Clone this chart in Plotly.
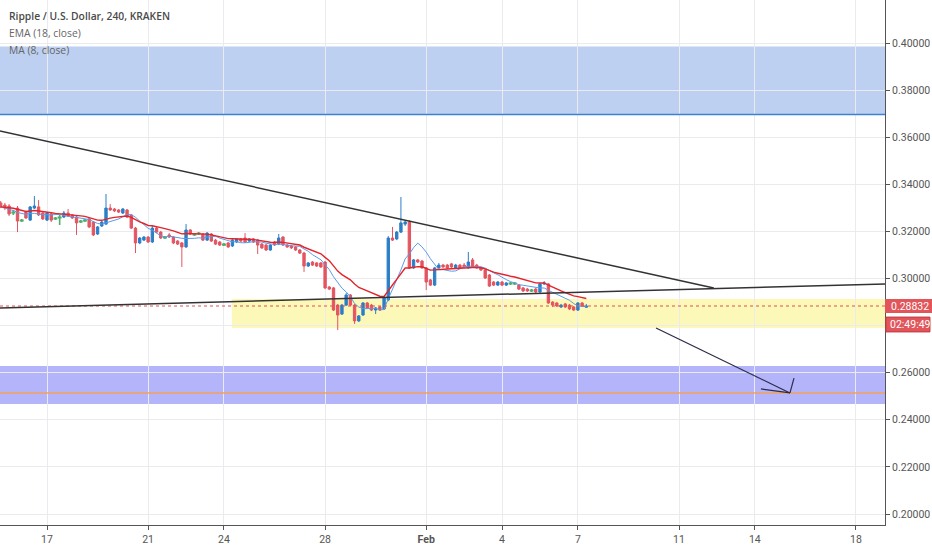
#!/usr/bin/env python3
"""Ripple / USD 4h candles (Kraken) with EMA(18), MA(8) and drawn zones."""
import pandas as pd
import plotly.graph_objects as go

# 4h candles from 2019-01-15 04:00
opens = [
    .3321, .3312, .3308, .3279, .3299, .3245, .3282, .3248, .3299, .3304,
    .3278, .3248, .3274, .3254, .3258, .3261, .3278, .3270, .3261, .3241,
    .3245, .3253, .3240, .3189, .3223, .3231, .3299, .3295, .3291, .3278,
    .3291, .3270, .3214, .3151, .3163, .3176, .3155, .3214, .3197, .3173,
    .3185, .3176, .3159, .3151, .3134, .3206, .3186, .3190, .3189, .3163,
    .3189, .3163, .3155, .3143, .3151, .3138, .3155, .3168, .3172, .3159,
    .3168, .3163, .3146, .3142, .3121, .3155, .3146, .3176, .3142, .3138,
    .3134, .3121, .3108, .3053, .3070, .3066, .3066, .3070, .2964, .2960,
    .2887, .2849, .2887, .2930, .2887, .2820, .2845, .2896, .2887, .2866,
    .2879, .2871, .2909, .3172, .3168, .3197, .3231, .3240, .3045, .3079,
    .3074, .3045, .2994, .2972, .3045, .3057, .3057, .3062, .3045, .3057,
    .3057, .3045, .3079, .3057, .3045, .3036, .3015, .2985, .2972, .2985,
    .2972, .2978, .2980, .2972, .2960, .2955, .2948, .2955, .2943, .2977,
    .2977, .2900, .2896, .2879, .2892, .2887, .2879, .2866, .2896, .2878,
]
highs = [
    .3329, .3321, .3316, .3291, .3308, .3253, .3287, .3308, .3350, .3333,
    .3282, .3282, .3278, .3261, .3270, .3287, .3295, .3274, .3265, .3248,
    .3253, .3257, .3244, .3223, .3244, .3359, .3316, .3299, .3295, .3299,
    .3295, .3274, .3219, .3176, .3180, .3180, .3223, .3219, .3202, .3180,
    .3193, .3180, .3163, .3155, .3231, .3210, .3193, .3197, .3193, .3197,
    .3193, .3168, .3159, .3151, .3155, .3168, .3172, .3172, .3193, .3172,
    .3172, .3168, .3151, .3146, .3146, .3159, .3189, .3180, .3146, .3142,
    .3138, .3125, .3113, .3070, .3074, .3070, .3070, .3074, .2968, .2964,
    .2892, .2892, .2938, .2934, .2892, .2845, .2900, .2900, .2892, .2879,
    .2883, .2921, .3180, .3219, .3202, .3346, .3248, .3248, .3083, .3083,
    .3079, .3049, .2998, .3049, .3066, .3062, .3062, .3066, .3062, .3062,
    .3066, .3113, .3087, .3062, .3049, .3041, .3019, .2989, .2989, .2989,
    .2985, .2985, .2985, .2977, .2964, .2960, .2955, .2960, .2981, .2989,
    .2981, .2904, .2900, .2892, .2896, .2892, .2883, .2900, .2900, .2892,
]
lows = [
    .3299, .3291, .3265, .3270, .3197, .3240, .3253, .3244, .3295, .3265,
    .3248, .3244, .3240, .3248, .3227, .3257, .3261, .3253, .3185, .3236,
    .3240, .3214, .3180, .3185, .3219, .3227, .3287, .3282, .3278, .3274,
    .3257, .3210, .3108, .3146, .3159, .3151, .3151, .3193, .3168, .3168,
    .3172, .3146, .3142, .3049, .3130, .3185, .3180, .3185, .3159, .3159,
    .3155, .3142, .3138, .3138, .3130, .3134, .3151, .3155, .3151, .3155,
    .3151, .3104, .3125, .3117, .3117, .3138, .3142, .3138, .3130, .3125,
    .3117, .3104, .3028, .3049, .3053, .3049, .3045, .2955, .2951, .2862,
    .2781, .2845, .2883, .2883, .2807, .2815, .2841, .2871, .2862, .2849,
    .2862, .2866, .2904, .3159, .3163, .3193, .3223, .3041, .3041, .3066,
    .3041, .2951, .2968, .2968, .3041, .3045, .3041, .3045, .3041, .3041,
    .3045, .3041, .3045, .3041, .3032, .2998, .2964, .2968, .2968, .2968,
    .2968, .2972, .2972, .2951, .2943, .2943, .2943, .2938, .2938, .2972,
    .2892, .2879, .2879, .2875, .2875, .2866, .2862, .2862, .2879, .2875,
]
closes = [
    .3304, .3299, .3274, .3281, .3244, .3247, .3257, .3304, .3308, .3270,
    .3253, .3278, .3248, .3256, .3260, .3278, .3265, .3257, .3236, .3243,
    .3247, .3219, .3185, .3219, .3240, .3299, .3291, .3287, .3282, .3295,
    .3261, .3214, .3151, .3172, .3176, .3155, .3214, .3197, .3172, .3175,
    .3176, .3151, .3146, .3134, .3206, .3189, .3188, .3192, .3163, .3193,
    .3159, .3146, .3142, .3145, .3134, .3163, .3168, .3159, .3155, .3168,
    .3155, .3142, .3130, .3121, .3142, .3142, .3172, .3142, .3134, .3130,
    .3121, .3108, .3053, .3066, .3057, .3053, .3049, .2960, .2955, .2866,
    .2845, .2887, .2930, .2887, .2820, .2841, .2896, .2875, .2866, .2875,
    .2866, .2917, .3172, .3163, .3197, .3236, .3240, .3045, .3079, .3070,
    .3045, .2985, .2972, .3045, .3057, .3049, .3045, .3049, .3057, .3045,
    .3049, .3070, .3049, .3045, .3036, .3002, .2968, .2972, .2985, .2972,
    .2981, .2980, .2978, .2955, .2947, .2947, .2950, .2943, .2977, .2981,
    .2896, .2887, .2883, .2887, .2879, .2871, .2866, .2896, .2883, .28832,
]

# drawn zones / lines (prices)
supply_zone = (0.3696, 0.3985)
supply_line = 0.3696
yellow_zone = ("2019-01-24 07:30", 0.2790, 0.2913)
demand_zone = (0.2467, 0.2628)
target_line = 0.2514
down_trend = [("2019-01-15 03:20", 0.3626), ("2019-02-12 09:00", 0.2960)]
up_trend = [("2019-01-15 03:20", 0.2875), ("2019-02-19 03:35", 0.2977)]
arrow_pts = [("2019-02-10 02:10", 0.2790), ("2019-02-15 09:20", 0.2514)]
arrow_head = [("2019-02-14 05:50", 0.2531), ("2019-02-15 13:10", 0.2577)]
last_price = 0.28832
countdown = "02:49:49"

x_ticks = ["2019-01-17", "2019-01-21", "2019-01-24", "2019-01-28", "2019-02-01",
           "2019-02-04", "2019-02-07", "2019-02-11", "2019-02-14", "2019-02-18"]
x_labels = ["17", "21", "24", "28", "<b>Feb</b>", "4", "7", "11", "14", "18"]
y_ticks = [0.20, 0.22, 0.24, 0.26, 0.28, 0.30, 0.32, 0.34, 0.36, 0.38, 0.40]

df = pd.DataFrame({"open": opens, "high": highs, "low": lows, "close": closes})
df["time"] = pd.date_range("2019-01-15 04:00", periods=len(df), freq="4h")
df["ema"] = df["close"].ewm(span=18, adjust=False).mean()
df["ma"] = df["close"].rolling(8, min_periods=1).mean()
doji = (df["close"] - df["open"]).abs() < 0.0003
body = df[~doji]
flat = df[doji]

RED = "#e35561"
BLUE = "#2b7fc6"
GREEN = "#4caf6e"
FONT = "Liberation Sans Narrow, Roboto, sans-serif"
Y0, Y1 = 0.19533, 0.41826
X0, X1 = "2019-01-15 03:22", "2019-02-19 03:34"

fig = go.Figure()
fig.add_trace(go.Candlestick(
    x=body["time"], open=body["open"], high=body["high"], low=body["low"], close=body["close"],
    increasing=dict(line=dict(color=BLUE, width=1), fillcolor=BLUE),
    decreasing=dict(line=dict(color=RED, width=1), fillcolor=RED),
    whiskerwidth=0, hoverinfo="skip"))
fig.add_trace(go.Candlestick(
    x=flat["time"], open=flat["open"], high=flat["high"], low=flat["low"], close=flat["close"],
    increasing=dict(line=dict(color=GREEN, width=1.6), fillcolor=GREEN),
    decreasing=dict(line=dict(color=GREEN, width=1.6), fillcolor=GREEN),
    whiskerwidth=0, hoverinfo="skip"))
fig.add_trace(go.Scatter(x=df["time"], y=df["ma"], mode="lines",
                         line=dict(color="#5b9bea", width=1), hoverinfo="skip"))
fig.add_trace(go.Scatter(x=df["time"], y=df["ema"], mode="lines",
                         line=dict(color="#e3242b", width=1.4), hoverinfo="skip"))

shapes = [
    dict(type="rect", xref="paper", x0=0, x1=1, yref="y", y0=supply_zone[0], y1=supply_zone[1],
         fillcolor="#bdd0f1", line_width=0, layer="below"),
    dict(type="rect", xref="x", x0=yellow_zone[0], x1="2019-02-21", yref="y",
         y0=yellow_zone[1], y1=yellow_zone[2], fillcolor="#fcf8b8", line_width=0, layer="below"),
    dict(type="rect", xref="paper", x0=0, x1=1, yref="y", y0=demand_zone[0], y1=demand_zone[1],
         fillcolor="#b4b4fa", line_width=0, layer="below"),
    dict(type="line", xref="paper", x0=0, x1=1, yref="y", y0=supply_line, y1=supply_line,
         line=dict(color="#3c82d0", width=1.5)),
    dict(type="line", xref="paper", x0=0, x1=1, yref="y", y0=target_line, y1=target_line,
         line=dict(color="#f5a05a", width=1.5)),
    dict(type="line", xref="paper", x0=0, x1=1, yref="y", y0=last_price, y1=last_price,
         line=dict(color="#e05050", width=1, dash="dot")),
    dict(type="line", x0=down_trend[0][0], y0=down_trend[0][1], x1=down_trend[1][0], y1=down_trend[1][1],
         line=dict(color="#333333", width=1.5)),
    dict(type="line", x0=up_trend[0][0], y0=up_trend[0][1], x1=up_trend[1][0], y1=up_trend[1][1],
         line=dict(color="#333333", width=1.5)),
    dict(type="line", x0=arrow_pts[0][0], y0=arrow_pts[0][1], x1=arrow_pts[1][0], y1=arrow_pts[1][1],
         line=dict(color="#2c2c4a", width=1.2)),
]
for hx, hy in arrow_head:
    shapes.append(dict(type="line", x0=hx, y0=hy, x1=arrow_pts[1][0], y1=arrow_pts[1][1],
                       line=dict(color="#2c2c4a", width=1.2)))
# price / countdown tags on the axis
shapes.append(dict(type="rect", xref="paper", x0=1.0, x1=1.06, yref="y",
                   y0=last_price - 0.0030, y1=last_price + 0.0030,
                   fillcolor="#e1555b", line_width=0))
shapes.append(dict(type="rect", xref="paper", x0=1.001, x1=1.0508, yref="y",
                   y0=last_price - 0.0110, y1=last_price - 0.0047,
                   fillcolor="#e1555b", line=dict(color="#c23a42", width=1)))

W = 885.0
H = 525.0
ann = [
    dict(text="Ripple / U.S. Dollar, 240, KRAKEN", x=7 / W, y=1 - 16 / H,
         font=dict(family="Open Sans", size=10.3, color="#4a4a4a", weight=600)),
    dict(text="EMA (18, close)", x=7 / W, y=1 - 33 / H,
         font=dict(family="Open Sans", size=10.3, color="#666666")),
    dict(text="MA (8, close)", x=7 / W, y=1 - 50 / H,
         font=dict(family="Open Sans", size=10.3, color="#666666")),
]
for a in ann:
    a.update(xref="paper", yref="paper", xanchor="left", yanchor="middle", showarrow=False)
ann.append(dict(text=f"{last_price:.5f}", xref="paper", x=1.0, xshift=4, yref="y", y=last_price,
                xanchor="left", yanchor="middle", showarrow=False,
                font=dict(family=FONT, size=10.5, color="white")))
ann.append(dict(text=countdown, xref="paper", x=1.0, xshift=3, yref="y", y=last_price - 0.00785,
                xanchor="left", yanchor="middle", showarrow=False,
                font=dict(family=FONT, size=10.5, color="white")))

fig.update_layout(
    width=932, height=550,
    margin=dict(l=0, r=47, t=0, b=25, autoexpand=False),
    paper_bgcolor="white", plot_bgcolor="white",
    showlegend=False, boxgap=0.2,
    shapes=shapes, annotations=ann,
    font=dict(family=FONT, size=10.5, color="#555555"),
    xaxis=dict(type="date", range=[X0, X1], rangeslider=dict(visible=False),
               tickvals=x_ticks, ticktext=x_labels, showgrid=True, gridcolor="#ebebef",
               showline=True, linecolor="#555555", linewidth=1, ticks="outside",
               ticklen=4, tickcolor="#555555", zeroline=False, fixedrange=True),
    yaxis=dict(side="right", range=[Y0, Y1], tickvals=y_ticks, tickformat=".5f",
               showgrid=True, gridcolor="#ebebef", showline=True, linecolor="#555555",
               linewidth=1, ticks="outside", ticklen=4, tickcolor="#555555",
               zeroline=False, fixedrange=True),
)

# page body has a default margin; drop it so the 932x550 figure fills the window
fig.write_html("out.html", config={"displayModeBar": False},
               post_script="document.body.style.margin='0';")
